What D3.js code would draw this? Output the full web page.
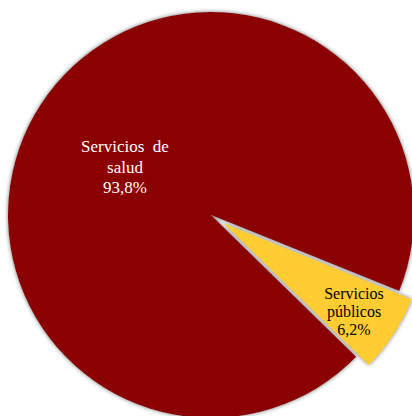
<!DOCTYPE html>
<html><head><meta charset="utf-8">
<script src="https://cdn.jsdelivr.net/npm/d3@7"></script>
<style>html,body{margin:0;padding:0;background:#fff;overflow:hidden}</style>
</head><body>
<script>
const categories = ["Servicios públicos", "Servicios de salud"];
const values = [6.2, 93.8];
const labels = ["6,2%", "93,8%"];
const colors = ["#FFCC33", "#8B0000"];

const W = 412, H = 416, cx = 211, cy = 215, R = 203;
const svg = d3.select("body").append("svg").attr("width", W).attr("height", H);
const defs = svg.append("defs");
const f = defs.append("filter").attr("id","sh").attr("x","-20%").attr("y","-20%").attr("width","140%").attr("height","140%");
f.append("feGaussianBlur").attr("in","SourceAlpha").attr("stdDeviation",2.2).attr("result","b");
f.append("feFlood").attr("flood-color","#777").attr("result","c");
f.append("feComposite").attr("in","c").attr("in2","b").attr("operator","in").attr("result","s");
const m = f.append("feMerge");
m.append("feMergeNode").attr("in","s");
m.append("feMergeNode").attr("in","SourceGraphic");

const startDeg = 112;
const pie = d3.pie().sort(null).value(d => d)
  .startAngle(startDeg * Math.PI/180).endAngle(startDeg * Math.PI/180 + 2*Math.PI);
const arcs = pie(values);
const arc = d3.arc().innerRadius(0).outerRadius(R);
const explode = [15, 0];

const g = svg.append("g").attr("transform", `translate(${cx},${cy})`);
[1, 0].forEach(i => {
  const a = arcs[i];
  const mid = (a.startAngle + a.endAngle)/2;
  const dx = Math.sin(mid)*explode[i], dy = -Math.cos(mid)*explode[i];
  g.append("path").attr("d", arc(a)).attr("fill", colors[i])
    .attr("transform", `translate(${dx},${dy})`).attr("filter","url(#sh)");
});

const lab = [
  {lines:["Servicios  de","salud", labels[1]], x:125, y:152, size:17, lh:20.5, color:"#fff"},
  {lines:["Servicios","públicos", labels[0]], x:354, y:299, size:16, lh:18, color:"#000"}
];
lab.forEach(L => {
  const t = svg.append("text").attr("text-anchor","middle")
    .attr("font-family","'Liberation Serif','Times New Roman',serif")
    .attr("font-size", L.size).attr("fill", L.color).style("white-space","pre");
  L.lines.forEach((s, k) => t.append("tspan").attr("x", L.x).attr("y", L.y + k*L.lh).text(s));
});
</script>
</body></html>
